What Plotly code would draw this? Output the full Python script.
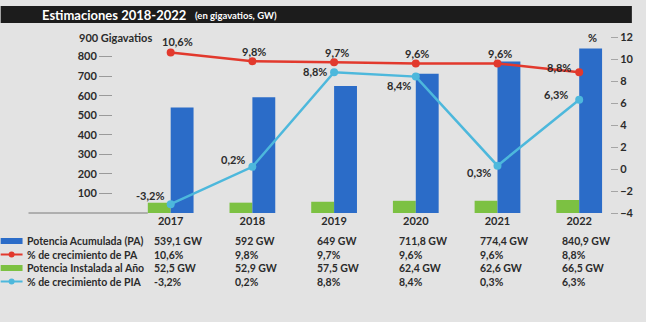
import plotly.graph_objects as go

years = ["2017", "2018", "2019", "2020", "2021", "2022"]
pa_gw = [539.1, 592, 649, 711.8, 774.4, 840.9]
pa_growth = [10.6, 9.8, 9.7, 9.6, 9.6, 8.8]
pia_gw = [52.5, 52.9, 57.5, 62.4, 62.6, 66.5]
pia_growth = [-3.2, 0.2, 8.8, 8.4, 0.3, 6.3]

left_ticks = [100, 200, 300, 400, 500, 600, 700, 800]
right_ticks = [-4, -2, 0, 2, 4, 6, 8, 10, 12]

# label offsets (pixels) for data labels
red_shift = [(7, 11, "center"), (2, 10, "center"), (3, 10, "center"), (1, 10, "center"), (3, 10, "center"), (-6, 5, "right")]
cyan_shift = [(-5, 9, "right"), (-5, 7, "right"), (-5, 1, "right"), (-3, -9, "right"), (-4, -7, "right"), (-9, 5, "right")]

BLUE = "#2b6cc8"
GREEN = "#7cc142"
RED = "#e2392d"
CYAN = "#4db8dc"
BG = "#e3e3e3"
TXT = "#2b2b2b"
FONT = "Lato"

W, H = 646, 322
L, R, T, B = 113, 33, 37, 109
PW = W - L - R
PH = H - T - B


def px_x(p):
    return (p - L) / PW


def px_y(p):
    return (H - B - p) / PH


def fmt(v, suffix):
    s = f"{v:.1f}"
    if s.endswith(".0"):
        s = s[:-2]
    return s.replace(".", ",") + suffix


fig = go.Figure()
fig.add_trace(go.Bar(x=years, y=pia_gw, marker_color=GREEN, marker_line_width=0,
                     name="Potencia Instalada al Año", showlegend=False))
fig.add_trace(go.Bar(x=years, y=pa_gw, marker_color=BLUE, marker_line_width=0,
                     name="Potencia Acumulada (PA)", showlegend=False))
fig.add_trace(go.Scatter(x=years, y=pa_growth, yaxis="y2", mode="lines+markers",
                         line=dict(color=RED, width=2.5), marker=dict(size=8, color=RED),
                         name="% de crecimiento de PA", showlegend=False))
fig.add_trace(go.Scatter(x=years, y=pia_growth, yaxis="y2", mode="lines+markers",
                         line=dict(color=CYAN, width=2.5), marker=dict(size=8, color=CYAN),
                         name="% de crecimiento de PIA", showlegend=False))

ann = []
shapes = []
lab_font = dict(size=11, color=TXT, family=FONT, weight="bold")

# data labels (category axis: position by category index)
for i, y in enumerate(years):
    dx, dy, anc = red_shift[i]
    ann.append(dict(x=i, y=pa_growth[i], xref="x", yref="y2", text=fmt(pa_growth[i], "%"),
                    showarrow=False, xanchor=anc, yanchor="middle", xshift=dx, yshift=dy,
                    font=lab_font))
    dx, dy, anc = cyan_shift[i]
    ann.append(dict(x=i, y=pia_growth[i], xref="x", yref="y2", text=fmt(pia_growth[i], "%"),
                    showarrow=False, xanchor=anc, yanchor="middle", xshift=dx, yshift=dy,
                    font=lab_font))

# data table
rows = [
    ("Potencia Acumulada (PA)", [fmt(v, " GW") for v in pa_gw], "bar", BLUE),
    ("% de crecimiento de PA", [fmt(v, "%") for v in pa_growth], "line", RED),
    ("Potencia Instalada al Año", [fmt(v, " GW") for v in pia_gw], "bar", GREEN),
    ("% de crecimiento de PIA", [fmt(v, "%") for v in pia_growth], "line", CYAN),
]
row_y = [241, 254.5, 268, 281.5]
tab_font = dict(size=10.5, color=TXT, family=FONT, weight="bold")
for (label, vals, kind, col), ry in zip(rows, row_y):
    yp = px_y(ry)
    ann.append(dict(x=px_x(24), y=yp, xref="paper", yref="paper", text=label, showarrow=False,
                    xanchor="left", yanchor="middle", font=tab_font))
    for i, y in enumerate(years):
        ann.append(dict(x=i, y=yp, xref="x", yref="paper", text=vals[i], showarrow=False,
                        xanchor="left", yanchor="middle", xshift=-19, font=tab_font))
    if kind == "bar":
        shapes.append(dict(type="rect", xref="paper", yref="paper", x0=px_x(0), x1=px_x(22),
                           y0=px_y(ry + 3), y1=px_y(ry - 3), fillcolor=col, line_width=0))
    else:
        shapes.append(dict(type="line", xref="paper", yref="paper", x0=px_x(0), x1=px_x(22),
                           y0=yp, y1=yp, line=dict(color=col, width=2)))
        shapes.append(dict(type="circle", xref="paper", yref="paper", x0=px_x(8), x1=px_x(14),
                           y0=px_y(ry + 3), y1=px_y(ry - 3), fillcolor=col, line_width=0))

# title bar
shapes.append(dict(type="rect", xref="paper", yref="paper", x0=px_x(0), x1=px_x(635),
                   y0=px_y(23), y1=px_y(6), fillcolor="#1c1c1c", line_width=0, layer="above"))
ann.append(dict(x=px_x(40), y=px_y(15), xref="paper", yref="paper", text="Estimaciones 2018-2022",
                showarrow=False, xanchor="left", yanchor="middle",
                font=dict(size=13, color="white", family=FONT, weight="bold")))
ann.append(dict(x=px_x(193), y=px_y(15.5), xref="paper", yref="paper", text="(en gigavatios, GW)",
                showarrow=False, xanchor="left", yanchor="middle",
                font=dict(size=9.5, color="white", family=FONT, weight="bold")))
# axis titles
ann.append(dict(x=px_x(77), y=px_y(37), xref="paper", yref="paper", text="900 Gigavatios",
                showarrow=False, xanchor="left", yanchor="middle", font=lab_font))
ann.append(dict(x=px_x(595), y=px_y(37), xref="paper", yref="paper", text="%",
                showarrow=False, xanchor="center", yanchor="middle", font=lab_font))
# baseline
shapes.append(dict(type="line", xref="paper", yref="paper", x0=px_x(28), x1=px_x(148),
                   y0=0, y1=0, line=dict(color="#7a7a7a", width=1)))

fig.update_layout(
    width=W, height=H,
    margin=dict(l=L, r=R, t=T, b=B),
    paper_bgcolor=BG, plot_bgcolor=BG,
    barmode="group", bargap=0.44, bargroupgap=0,
    font=dict(family=FONT, color=TXT, size=11, weight="bold"),
    xaxis=dict(type="category", range=[-0.706, 5.377], showgrid=False, showline=False,
               zeroline=False, ticks="", tickfont=dict(size=11, color=TXT, weight="bold")),
    yaxis=dict(range=[0, 900], tickvals=left_ticks, ticks="outside", ticklen=13,
               tickcolor="#9a9a9a", showgrid=False, showline=False, zeroline=False,
               tickfont=dict(size=11, color=TXT, weight="bold")),
    yaxis2=dict(range=[-4, 12], tickvals=right_ticks, overlaying="y", side="right",
                ticks="outside", ticklen=7, tickcolor="#a5a5a5", showgrid=False,
                showline=False, zeroline=False,
                tickfont=dict(size=11, color=TXT, weight="bold")),
    annotations=ann, shapes=shapes, showlegend=False,
)

fig.write_html("out.html")
